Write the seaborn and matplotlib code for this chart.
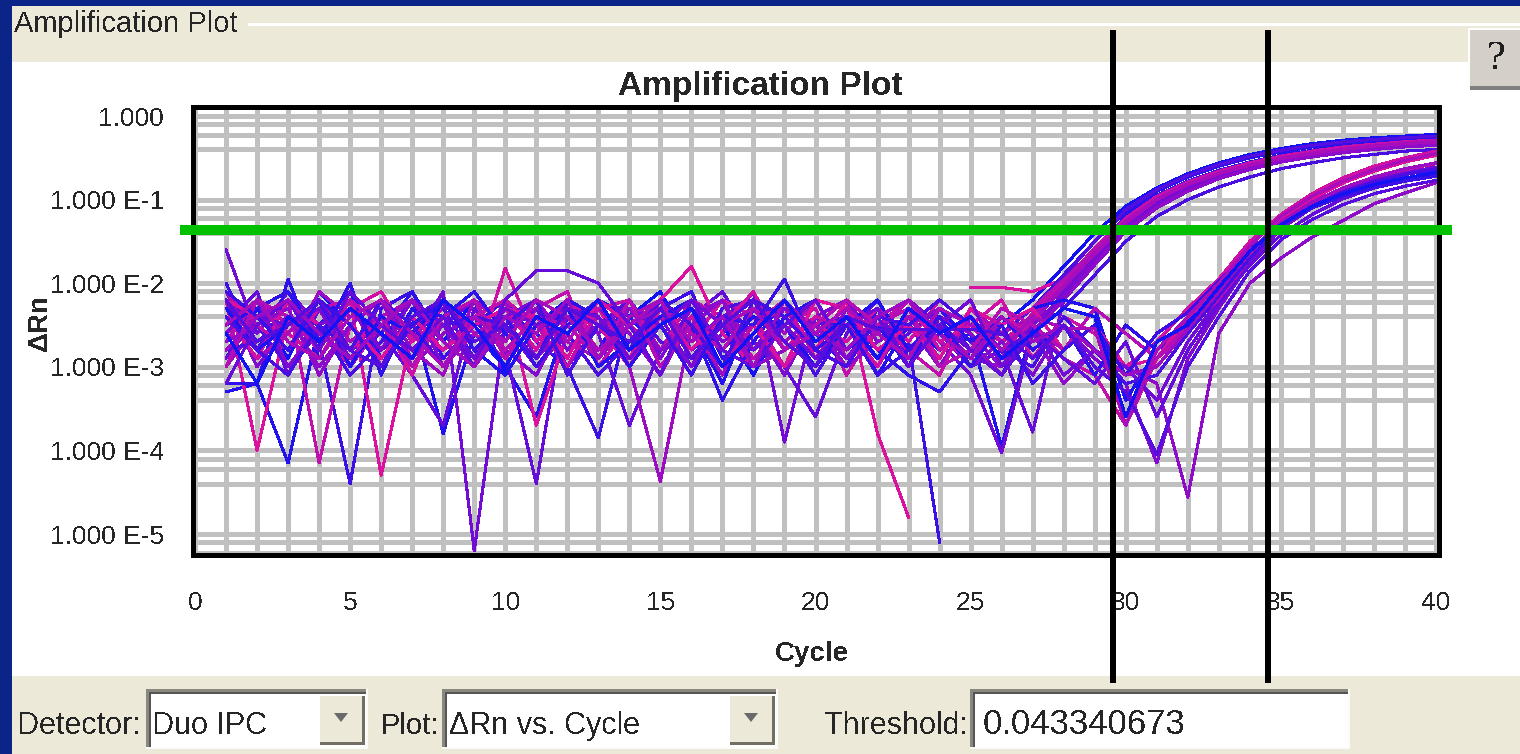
import numpy as np
import pandas as pd
import seaborn as sns
import matplotlib.pyplot as plt
from matplotlib.patches import Rectangle, Polygon
from matplotlib.ticker import FixedLocator, MultipleLocator, FuncFormatter, NullFormatter

nan = np.nan
cycles = list(range(1, 41))

# log10(delta Rn) for each well, cycles 1..40 (nan = negative reading, not drawn)
# early wells (Ct ~29.6): 26 baseline cycles + 14 rising
early_01 = [-2.9, -2.3, -2.9, -2.1, -2.5, -3.0, -2.3, -2.7, -2.2, -3.1, -2.5, -2.2, -2.9,
            -2.4, -2.1, -2.8, -2.5, -3.1, -2.4, -2.2, -2.8, -2.5, -3.0, -2.4, -2.7, -2.5,
            -2.2, -1.8, -1.4, -1.08, -0.86, -0.69, -0.56, -0.46, -0.39, -0.33, -0.29, -0.26, -0.24, -0.22]
early_02 = [-3.3, -3.2, -4.15, -2.5, -2.1, -2.9, -2.4, -3.8, -2.6, -3.0, -3.6, -2.4, -2.8,
            -2.2, -3.0, -2.5, -3.2, -2.3, -2.7, -3.0, -2.3, -3.1, -2.5, -2.8, -2.6, -3.96,
            -2.5, -2.0, -1.6, -1.2, -0.95, -0.78, -0.65, -0.55, -0.47, -0.41, -0.36, -0.32, -0.29, -0.27]
early_03 = [-2.0, -2.8, -2.2, -2.7, -4.4, -2.3, -2.1, -2.9, -2.5, -2.2, -2.7, -3.0, -3.85,
            -2.4, -2.3, -2.1, -2.9, -2.6, -2.2, -2.6, -3.0, -2.3, -2.7, -5.1, nan, -3.1,
            -2.4, -2.05, -1.68, -1.3, -1.02, -0.83, -0.69, -0.59, -0.51, -0.45, -0.4, -0.36, -0.33, -0.31]
early_04 = [-1.6, -2.6, -2.1, -2.5, -3.0, -2.2, -2.7, -2.1, -5.2, -2.5, -3.0, -2.6, -2.2,
            -2.8, -2.4, -3.0, -2.6, -2.1, -3.9, -2.4, -2.8, -2.5, -2.2, -2.7, -3.1, -4.03,
            -2.6, -2.1, -1.7, -1.32, -1.05, -0.86, -0.72, -0.61, -0.53, -0.47, -0.42, -0.38, -0.35, -0.33]
early_05 = [-2.5, -2.1, -3.1, -2.3, -2.8, -2.6, -3.1, -3.7, -2.3, -2.8, -4.4, -2.2, -2.6,
            -3.7, -2.8, -2.4, -2.1, -2.7, -3.0, -3.6, -2.6, -2.2, -2.9, -2.6, -2.4, -2.8,
            -3.78, -2.2, -1.75, -1.36, -1.08, -0.88, -0.73, -0.62, -0.54, -0.48, -0.43, -0.39, -0.36, -0.34]
early_06 = [-2.2, -4.0, -2.4, -2.8, -2.2, -4.3, -2.6, -2.3, -2.9, -2.2, -3.7, -2.6, -2.3,
            -2.9, -2.2, -1.8, -2.6, -3.0, -2.4, -2.8, -2.2, -3.8, -4.8, nan, -2.05, -2.05,
            -2.1, -1.95, -1.62, -1.26, -0.99, -0.81, -0.68, -0.58, -0.5, -0.44, -0.39, -0.35, -0.32, -0.3]
early_07 = [-2.6, -2.4, -2.2, -4.15, -2.5, -3.0, -2.4, -2.2, -2.6, -2.9, -2.3, -2.1, -3.0,
            -2.5, -2.8, -2.2, -2.4, -2.9, -2.5, -2.3, -3.1, -2.5, -2.2, -2.8, -2.5, -2.9,
            -2.35, -1.98, -1.58, -1.22, -0.96, -0.79, -0.66, -0.56, -0.48, -0.42, -0.37, -0.33, -0.3, -0.28]
early_08 = [-3.0, -2.5, -2.8, -2.1, -2.4, -2.2, -2.8, -3.1, -2.2, -2.5, -2.2, -2.8, -2.4,
            -3.0, -4.37, -2.5, -3.1, -2.2, -2.7, -2.4, -2.5, -3.0, -2.4, -2.5, -2.9, -3.0,
            -2.45, -2.05, -1.65, -1.28, -1.0, -0.82, -0.68, -0.58, -0.5, -0.44, -0.39, -0.35, -0.32, -0.3]
early_09 = [-3.2, -3.2, -1.95, -2.9, -2.3, -2.6, -2.1, -2.7, -3.0, -2.4, -2.6, -2.9, -2.2,
            -2.4, -2.8, -2.5, -3.4, -2.7, -2.2, -2.6, -2.4, -2.8, -3.1, -3.3, -2.8, -2.5,
            -2.3, -1.9, -1.5, -1.15, -0.9, -0.73, -0.6, -0.5, -0.43, -0.37, -0.33, -0.3, -0.27, -0.25]
early_10 = [-2.2, -3.0, -2.5, -2.2, -2.8, -2.4, -2.9, -2.5, -2.2, -2.8, -3.1, -2.4, -2.6,
            -2.2, -2.9, -2.3, -2.7, -2.5, -3.1, -2.4, -2.2, -2.7, -2.5, -3.0, -2.4, -2.9,
            -2.5, -2.15, -1.72, -1.34, -1.07, -0.87, -0.72, -0.61, -0.53, -0.46, -0.41, -0.37, -0.34, -0.32]
early_11 = [-2.5, -2.2, -2.6, -2.9, -2.3, -2.1, -2.7, -2.4, -3.0, -1.82, -2.7, -2.3, -2.8,
            -2.5, -2.2, -2.7, -2.2, -2.4, -3.0, -2.5, -2.7, -2.3, -2.7, -2.2, -2.5, -2.7,
            -2.4, -2.0, -1.6, -1.24, -0.98, -0.8, -0.67, -0.57, -0.49, -0.43, -0.38, -0.34, -0.31, -0.29]
early_12 = [-2.8, -2.7, -2.4, -2.5, -3.1, -2.7, -2.2, -2.5, -2.4, -3.0, -2.4, -2.6, -3.1,
            -2.7, -2.5, -3.0, -2.3, -2.2, -2.5, -3.1, -2.5, -2.9, -2.3, -2.6, -3.0, -2.8,
            -2.6, -2.3, -1.9, -1.5, -1.2, -1.0, -0.85, -0.73, -0.63, -0.56, -0.5, -0.46, -0.42, -0.4]
early_13 = [-2.3, -2.5, -3.0, -2.6, -2.2, -2.8, -2.5, -2.3, -2.9, -2.6, -2.3, -3.0, -2.5,
            -2.2, -2.7, -2.9, -2.4, -2.2, -2.8, -2.5, -2.4, -2.9, -2.6, -2.3, -2.8, -2.6,
            -2.3, -1.92, -1.5, -1.12, -0.88, -0.71, -0.58, -0.48, -0.41, -0.35, -0.31, -0.28, -0.26, -0.24]
early_14 = [-2.7, -2.2, -2.5, -2.3, -3.0, -2.5, -2.8, -2.4, -2.2, -2.9, -2.5, -2.7, -2.2,
            -3.0, -2.4, -2.6, -3.0, -2.5, -2.3, -2.8, -2.5, -2.6, -2.2, -2.7, -2.9, -2.5,
            -2.3, -1.96, -1.6, -1.25, -0.99, -0.81, -0.68, -0.58, -0.5, -0.44, -0.39, -0.35, -0.32, -0.29]
early_15 = [-2.1, -2.8, -2.4, -3.0, -2.5, -2.2, -3.0, -2.6, -2.4, -2.2, -2.9, -2.5, -2.3,
            -2.6, -3.1, -2.4, -2.2, -2.8, -2.5, -3.0, -2.3, -2.5, -2.9, -2.4, -2.6, -3.0,
            -2.6, -2.2, -1.78, -1.38, -1.1, -0.9, -0.75, -0.64, -0.55, -0.49, -0.44, -0.4, -0.37, -0.35]
early_16 = [-2.4, -2.9, -2.6, -2.2, -2.7, -2.4, -2.2, -3.0, -2.6, -2.4, -2.2, -2.7, -2.9,
            -2.4, -2.2, -2.5, -2.8, -2.3, -2.6, -2.2, -2.9, -2.6, -2.4, -2.9, -2.3, -2.6,
            -2.4, -2.02, -1.64, -1.27, -1.0, -0.82, -0.69, -0.59, -0.51, -0.45, -0.4, -0.36, -0.33, -0.31]

# late wells (Ct ~34.6): 31 baseline cycles + 9 rising
late_01 = [-2.4, -2.9, -2.2, -2.5, -2.8, -2.4, -3.1, -2.2, -2.5, -2.3, -2.8, -2.2, -2.5, -3.0, -2.3, -2.7,
           -2.5, -2.1, -2.8, -2.4, -2.5, -3.0, -2.3, -2.7, -2.5, -2.2, -2.9, -2.4, -2.6, -3.0, -2.7,
           -2.3, -1.95, -1.5, -1.18, -0.93, -0.74, -0.6, -0.5, -0.42]
late_02 = [-2.1, -2.5, -2.8, -2.3, -2.2, -3.0, -2.5, -2.8, -2.4, -2.2, -2.5, -3.0, -2.3, -2.2, -2.8, -2.4,
           -3.0, -2.5, -2.2, -2.9, -2.4, -2.5, -2.8, -3.1, -2.3, -2.7, -2.5, -2.9, -3.1, -3.7, -2.9,
           -2.6, -2.15, -1.62, -1.28, -1.04, -0.87, -0.74, -0.64, -0.57]
late_03 = [-2.6, -2.2, -3.0, -2.5, -2.3, -2.8, -2.2, -3.0, -2.5, -2.4, -2.2, -2.8, -2.5, -2.3, -2.5, -3.0,
           -2.4, -2.8, -2.3, -2.5, -2.9, -2.4, -2.2, -2.5, -3.0, -2.7, -3.1, -2.5, -2.9, -3.2, -4.15,
           -2.9, -2.3, -1.75, -1.35, -1.1, -0.92, -0.79, -0.69, -0.62]
late_04 = [-2.7, -2.5, -2.3, -3.1, -2.5, -2.2, -2.8, -2.5, -3.0, -2.5, -2.3, -2.5, -2.9, -2.3, -2.8, -2.5,
           -2.2, -3.0, -2.8, -2.5, -3.0, -2.7, -2.5, -2.3, -2.7, -3.1, -2.6, -3.2, -2.8, -3.0, -3.2,
           -4.56, -2.6, -2.0, -1.7, -1.45, -1.25, -1.05, -0.92, -0.8]
late_05 = [-2.3, -2.8, -2.5, -2.2, -3.0, -2.4, -2.6, -2.2, -2.8, -3.1, -2.5, -2.3, -3.0, -2.7, -2.4, -2.2,
           -2.8, -2.4, -2.5, -3.0, -2.5, -2.2, -2.8, -2.5, -3.0, -2.5, -2.3, -2.2, -2.3, -3.4, -2.8,
           -2.45, -2.15, -1.68, -1.28, -1.05, -0.89, -0.78, -0.7, -0.64]
late_06 = [-2.5, -2.3, -2.1, -2.7, -2.0, -3.1, -2.3, -2.4, -2.1, -2.6, -2.9, -2.2, -2.4, -3.0, -2.5, -2.3,
           -2.8, -3.0, -2.4, -2.2, -2.8, -2.5, -3.0, -2.3, -2.7, -2.4, -2.8, -2.5, -3.1, -2.5, -2.8,
           -2.5, -2.1, -1.7, -1.32, -1.1, -0.95, -0.84, -0.76, -0.7]
late_07 = [-2.2, -2.4, -2.8, -2.2, -2.5, -2.9, -2.4, -2.8, -2.5, -2.3, -2.4, -2.9, -2.2, -2.5, -2.3, -2.8,
           -2.4, -2.5, -3.0, -2.2, -2.3, -2.8, -2.5, -2.9, -2.3, -2.5, -2.3, -2.8, -2.5, -3.0, -2.9,
           -2.4, -2.1, -1.65, -1.25, -0.99, -0.8, -0.66, -0.55, -0.47]
late_08 = [-2.9, -2.4, -2.5, -2.3, -2.9, -2.5, -2.2, -2.5, -2.9, -2.3, -2.5, -2.3, -2.4, -2.9, -2.5, -2.2,
           -2.5, -2.8, -2.5, -2.9, -2.5, -2.3, -3.0, -2.5, -2.2, -3.0, -2.5, -3.1, -2.8, -3.0, -3.4,
           -2.7, -2.2, -1.72, -1.33, -1.08, -0.9, -0.77, -0.68, -0.61]
late_09 = [-3.0, -2.2, -2.4, -2.8, -2.2, -2.5, -3.0, -2.4, -2.2, -2.8, -2.4, -2.5, -2.9, -2.2, -3.0, -2.5,
           -2.8, -2.3, -2.8, -2.5, -2.2, -2.5, -2.3, -3.0, -2.8, -2.3, -2.5, -2.8, -2.3, -2.6, -2.9,
           -2.5, -2.2, -1.7, -1.28, -1.04, -0.86, -0.73, -0.63, -0.56]
late_10 = [-2.4, -2.8, -3.1, -2.5, -2.8, -2.2, -2.5, -3.0, -2.4, -2.5, -2.2, -3.1, -2.5, -2.8, -2.2, -2.5,
           -3.0, -2.2, -2.4, -2.8, -3.0, -2.4, -2.5, -2.2, -2.5, -2.8, -3.0, -2.4, -2.8, -3.2, -3.1,
           -2.6, -2.15, -1.7, -1.32, -1.08, -0.91, -0.79, -0.7, -0.63]
late_11 = [-3.2, -2.5, -2.2, -2.8, -2.1, -2.5, -2.8, -2.4, -3.0, -2.2, -1.85, -1.85, -2.0, -2.5, -3.1, -2.2,
           -2.8, -3.0, -2.5, -2.2, -2.8, -2.4, -3.0, -2.5, -2.8, -3.1, -2.6, -2.9, -3.2, -2.7, -3.6,
           -2.8, -2.25, -1.78, -1.42, -1.18, -0.99, -0.86, -0.76, -0.69]
late_12 = [-2.1, -2.4, -2.8, -2.2, -2.5, -3.0, -2.5, -2.2, -2.8, -2.4, -3.0, -2.5, -2.2, -2.8, -2.5, -3.1,
           -2.4, -2.5, -1.95, -2.8, -2.5, -3.1, -2.8, -2.4, -3.0, -2.5, -3.2, -2.8, -2.5, -3.1, -2.6,
           -2.35, -1.98, -1.6, -1.3, -1.1, -0.96, -0.86, -0.78, -0.72]
late_13 = [-2.5, -2.2, -2.7, -2.9, -2.4, -2.2, -2.6, -3.0, -2.4, -2.7, -2.2, -2.4, -2.8, -2.5, -2.2, -2.9,
           -2.5, -2.3, -2.8, -2.6, -2.3, -2.6, -2.9, -2.3, -2.5, -2.8, -2.4, -2.54, -2.54, -3.7, -2.8,
           -2.4, -2.0, -1.55, -1.2, -0.96, -0.78, -0.64, -0.53, -0.45]
late_14 = [-2.8, -2.4, -2.2, -2.6, -2.9, -2.5, -2.2, -2.7, -3.0, -2.4, -2.6, -2.2, -2.9, -2.5, -2.3, -2.7,
           -2.4, -3.0, -2.2, -2.6, -2.8, -2.4, -2.2, -2.6, -2.9, -2.4, -2.7, -2.5, -2.8, -3.1, -3.0,
           -2.55, -2.1, -1.62, -1.27, -1.03, -0.86, -0.73, -0.63, -0.56]
late_15 = [-2.2, -2.7, -2.5, -2.2, -2.8, -3.0, -2.4, -2.2, -2.7, -2.5, -2.9, -2.3, -2.5, -2.7, -2.3, -2.9,
           -2.5, -2.2, -2.7, -3.0, -2.4, -2.55, -2.55, -2.55, -2.55, -2.6, -2.9, -2.5, -3.0, -3.3, -4.05,
           -3.0, -2.4, -1.85, -1.48, -1.24, -1.06, -0.93, -0.84, -0.77]
late_16 = [-2.6, -3.2, -2.4, -2.7, -2.3, -2.6, -2.9, -2.2, -2.5, -3.0, -2.4, -2.6, -2.2, -2.8, -2.5, -2.3,
           -3.0, -2.6, -2.2, -2.7, -2.4, -2.9, -2.3, -2.6, -2.4, -2.9, -2.6, -2.3, -2.4, -3.6, -2.7,
           -2.5, -2.05, -1.62, -1.3, -1.08, -0.93, -0.82, -0.74, -0.68]

threshold = 0.043340673
ct_marks = [29.58, 34.6]
x_ticks = [0, 5, 10, 15, 20, 25, 30, 35, 40]
y_ticks = [1.0, 1e-1, 1e-2, 1e-3, 1e-4, 1e-5]
y_minor = [m * t for t in y_ticks for m in (0.8, 0.6, 0.4)]

detector_name = "Duo IPC"
plot_name = "\u0394Rn vs. Cycle"

early = [early_01, early_02, early_03, early_04, early_05, early_06, early_07, early_08,
         early_09, early_10, early_11, early_12, early_13, early_14, early_15, early_16]
late = [late_01, late_02, late_03, late_04, late_05, late_06, late_07, late_08,
        late_09, late_10, late_11, late_12, late_13, late_14, late_15, late_16]

# colour shade (0 = blue ... 15 = magenta) given to each well
early_shade = [0, 1, 3, 7, 6, 15, 13, 10, 2, 8, 14, 4, 5, 12, 9, 11]
late_shade = [14, 13, 8, 9, 1, 2, 15, 7, 12, 4, 6, 3, 11, 10, 5, 0]

# ---- long table, split at negative readings so lines break there
rows = []
wells = [(f"E{i + 1}", t) for i, t in enumerate(early)] + [(f"L{i + 1}", t) for i, t in enumerate(late)]
for name, trace in wells:
    piece = 0
    for c, v in zip(cycles, trace):
        if np.isnan(v):
            piece += 1
            continue
        rows.append((name, f"{name}_{piece}", c, 10 ** v))
df = pd.DataFrame(rows, columns=["well", "piece", "cycle", "drn"])

ramp = sns.blend_palette(["#1212F2", "#7A0AD4", "#DC109E"], 16)
palette = {}
for i in range(len(early)):
    palette[f"E{i + 1}"] = ramp[early_shade[i]]
for i in range(len(late)):
    palette[f"L{i + 1}"] = ramp[late_shade[i]]

sns.set_style("white")
plt.rcParams["font.family"] = ["Liberation Sans", "DejaVu Sans"]
plt.rcParams["text.antialiased"] = False

W, H = 1520, 754
fig = plt.figure(figsize=(W / 100, H / 100), dpi=100, facecolor="#0B2487")


def box(x0, y0, x1, y1, color, z=-2):
    fig.patches.append(Rectangle((x0 / W, 1 - y1 / H), (x1 - x0) / W, (y1 - y0) / H,
                                 transform=fig.transFigure, facecolor=color,
                                 edgecolor="none", zorder=z))


def label(x, y, s, **kw):
    kw.setdefault("va", "center")
    kw.setdefault("fontsize", 22)
    fig.text(x / W, 1 - y / H, s, **kw)


# window chrome
box(12, 6, W, H, "#ECE9D8")
box(248, 23, W, 26, "white")
box(12, 62, W, 676, "white")
box(1468, 28, W, 90, "#D4D0C8")
box(1468, 28, W, 30, "white", -1)
box(1468, 28, 1470, 90, "white", -1)
box(1470, 86, W, 90, "#7F7F7F", -1)
label(1497, 59, "?", ha="center", fontsize=27, color="#202020", family="DejaVu Serif")
label(14, 24, "Amplification Plot", fontsize=21)


def combo(x0, x1, button=True):
    box(x0, 689, x1, 749, "#FBFBF8")
    box(x0, 689, x1 - 2, 747, "#8A887E", -1.9)
    box(x0 + 3, 692, x1 - 2, 747, "#555555", -1.8)
    box(x0 + 5, 694, x1 - 2, 747, "white", -1.7)
    if button:
        box(x1 - 48, 696, x1 - 3, 745, "#716F64", -1.6)
        box(x1 - 48, 696, x1 - 6, 742, "#ECE9D8", -1.5)
        b = x1 - 27
        fig.patches.append(Polygon([((b - 7) / W, 1 - 713 / H), ((b + 7) / W, 1 - 713 / H),
                                    (b / W, 1 - 722 / H)], closed=True,
                                   transform=fig.transFigure, facecolor="#6A6A6A",
                                   edgecolor="none", zorder=-1.4))


combo(146, 368)
combo(442, 778)
combo(970, 1350, button=False)
label(18, 726, "Detector:")
label(152, 726, detector_name)
label(381, 726, "Plot:", fontsize=21)
label(449, 726, plot_name)
label(968, 726, "Threshold:", ha="right")
label(983, 724, f"{threshold:.9f}", fontsize=25)
label(760, 87, "Amplification Plot", ha="center", fontsize=24, fontweight="bold")

# ---- plot
ax = fig.add_axes([193 / W, 1 - 555 / H, (1439 - 193) / W, (555 - 107) / H])
sns.lineplot(data=df, x="cycle", y="drn", hue="well", units="piece", estimator=None,
             palette=palette, legend=False, linewidth=1.5, antialiased=False, ax=ax)

ax.set_yscale("log")
ax.set_xlim(-0.065, 40.097)
ax.set_ylim(10 ** -5.251, 10 ** 0.108)
ax.xaxis.set_major_locator(FixedLocator(x_ticks))
ax.xaxis.set_minor_locator(MultipleLocator(1))
ax.yaxis.set_major_locator(FixedLocator(y_ticks))
ax.yaxis.set_minor_locator(FixedLocator(y_minor))
ax.yaxis.set_minor_formatter(NullFormatter())


def y_fmt(v, pos):
    e = int(round(np.log10(v)))
    return "1.000" if e == 0 else f"1.000 E{e}"


ax.yaxis.set_major_formatter(FuncFormatter(y_fmt))
ax.grid(which="both", color="#C0C0C0", linewidth=2.2, antialiased=False)
ax.set_axisbelow(True)
ax.tick_params(which="both", direction="out", color="#C0C0C0", width=2.2, labelsize=19)
ax.tick_params(axis="x", which="major", length=21.6, pad=4)
ax.tick_params(axis="x", which="minor", length=10)
ax.tick_params(axis="y", which="major", length=20, pad=1)
ax.tick_params(axis="y", which="minor", length=9.4)
for s in ax.spines.values():
    s.set_color("black")
    s.set_linewidth(2.2)
    s.set_antialiased(False)

ax.set_xlabel("Cycle", fontsize=20, fontweight="bold")
ax.xaxis.set_label_coords((812 - 193) / 1246, -0.192)
ax.set_ylabel("\u0394Rn", fontsize=20, fontweight="bold", va="center")
ax.yaxis.set_label_coords((40 - 193) / 1246, 0.518)

ax.axhline(threshold, xmin=-0.0104, xmax=1.0104, color="#00C000", linewidth=7.2,
           clip_on=False, zorder=5, solid_capstyle="butt", antialiased=False)
for ct in ct_marks:
    ax.axvline(ct, ymin=-0.286, ymax=1.172, color="black", linewidth=4.3,
               clip_on=False, zorder=6, solid_capstyle="butt", antialiased=False)

fig.savefig("out.png", dpi=100, facecolor=fig.get_facecolor())
